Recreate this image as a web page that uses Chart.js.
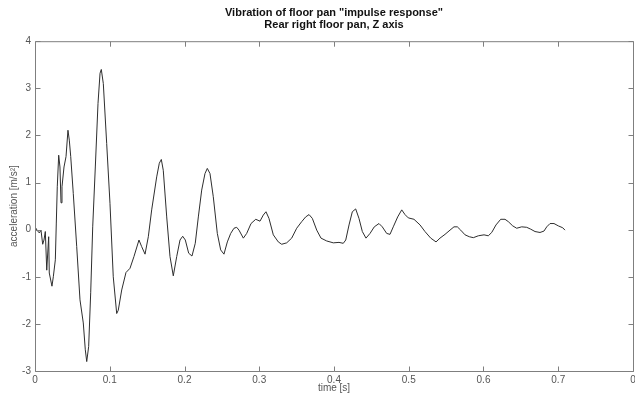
<!DOCTYPE html>
<html>
<head>
<meta charset="utf-8">
<script src="https://cdn.jsdelivr.net/npm/chart.js@4.4.1/dist/chart.umd.min.js"></script>
<style>
  html, body { margin: 0; padding: 0; background: #fff; }
  #wrap { width: 635px; height: 395px; }
</style>
</head>
<body>
<div id="wrap"><canvas id="floor-pan-chart"></canvas></div>
<script>
const titleLines = ['Vibration of floor pan "impulse response"', "Rear right floor pan, Z axis"];
const xTitle = "time [s]";
const yTitle = "acceleration [m/s\u00b2]";

// tick labels as printed on the plot (the last x label is cut to "0")
const xTickLabels = ["0", "0.1", "0.2", "0.3", "0.4", "0.5", "0.6", "0.7", "0"];
const yTickLabels = ["-3", "-2", "-1", "0", "1", "2", "3", "4"];

// time in s, acceleration in m/s^2
const timeSec = [
  0.0000, 0.0031, 0.0058, 0.0080, 0.0103, 0.0120, 0.0138, 0.0157, 0.0183, 0.0191,
  0.0227, 0.0245, 0.0272, 0.0285, 0.0298, 0.0317, 0.0334, 0.0348, 0.0361, 0.0388,
  0.0415, 0.0441, 0.0459, 0.0478, 0.0512, 0.0558, 0.0602, 0.0646, 0.0673, 0.0692,
  0.0718, 0.0745, 0.0772, 0.0807, 0.0843, 0.0870, 0.0887, 0.0914, 0.0959, 0.1003,
  0.1047, 0.1093, 0.1114, 0.1160, 0.1217, 0.1271, 0.1324, 0.1391, 0.1427, 0.1472,
  0.1516, 0.1561, 0.1628, 0.1663, 0.1690, 0.1716, 0.1762, 0.1806, 0.1850, 0.1896,
  0.1940, 0.1976, 0.2011, 0.2056, 0.2100, 0.2144, 0.2185, 0.2230, 0.2274, 0.2305,
  0.2341, 0.2385, 0.2439, 0.2484, 0.2528, 0.2573, 0.2618, 0.2662, 0.2698, 0.2729,
  0.2787, 0.2832, 0.2890, 0.2953, 0.3010, 0.3054, 0.3090, 0.3130, 0.3188, 0.3255,
  0.3300, 0.3367, 0.3434, 0.3501, 0.3568, 0.3621, 0.3666, 0.3710, 0.3769, 0.3826,
  0.3902, 0.3991, 0.4067, 0.4124, 0.4157, 0.4201, 0.4245, 0.4290, 0.4334, 0.4379,
  0.4428, 0.4482, 0.4539, 0.4602, 0.4646, 0.4705, 0.4749, 0.4793, 0.4852, 0.4906,
  0.4950, 0.4994, 0.5070, 0.5151, 0.5217, 0.5294, 0.5365, 0.5418, 0.5485, 0.5552,
  0.5605, 0.5650, 0.5695, 0.5753, 0.5810, 0.5864, 0.5931, 0.6007, 0.6064, 0.6110,
  0.6167, 0.6230, 0.6288, 0.6332, 0.6391, 0.6444, 0.6511, 0.6578, 0.6632, 0.6689,
  0.6756, 0.6809, 0.6846, 0.6890, 0.6943, 0.7001, 0.7060, 0.7090,
];
const accel = [
  0.06, -0.02, -0.07, -0.01, -0.31, -0.22, -0.04, -0.86, -0.15, -0.92,
  -1.20, -1.00, -0.64, 0.14, 0.91, 1.58, 1.33, 0.57, 0.91, 1.33,
  1.55, 2.11, 1.90, 1.55, 0.77, -0.36, -1.49, -1.98, -2.55, -2.80,
  -2.48, -1.34, 0.06, 1.33, 2.68, 3.32, 3.40, 3.10, 1.83, 0.56,
  -1.00, -1.78, -1.71, -1.28, -0.91, -0.82, -0.57, -0.22, -0.36, -0.52,
  -0.15, 0.42, 1.12, 1.41, 1.49, 1.26, 0.27, -0.57, -0.98, -0.57,
  -0.22, -0.14, -0.22, -0.50, -0.56, -0.29, 0.27, 0.84, 1.19, 1.30,
  1.19, 0.70, -0.08, -0.43, -0.52, -0.26, -0.08, 0.03, 0.05, -0.01,
  -0.18, -0.08, 0.13, 0.22, 0.18, 0.31, 0.38, 0.24, -0.11, -0.26,
  -0.31, -0.28, -0.18, 0.03, 0.17, 0.27, 0.32, 0.24, -0.01, -0.18,
  -0.24, -0.28, -0.27, -0.29, -0.22, 0.10, 0.38, 0.44, 0.24, -0.04,
  -0.18, -0.08, 0.06, 0.13, 0.06, -0.08, -0.10, 0.06, 0.27, 0.42,
  0.32, 0.25, 0.22, 0.10, -0.04, -0.18, -0.26, -0.18, -0.10, -0.01,
  0.06, 0.06, -0.01, -0.11, -0.15, -0.17, -0.13, -0.11, -0.13, -0.06,
  0.10, 0.22, 0.22, 0.17, 0.08, 0.03, 0.06, 0.05, 0.01, -0.04,
  -0.06, -0.03, 0.06, 0.13, 0.13, 0.08, 0.04, -0.01,
];

const AXIS_GREY = "#7f7f7f";
const TEXT_GREY = "#555555";
const FONT = "'Liberation Sans', Arial, sans-serif";

// matlab style: closed box, ticks pointing inward on every side
const boxTicks = {
  id: "boxTicks",
  afterDatasetsDraw(chart) {
    const { ctx, chartArea: a, scales } = chart;
    const len = 5;
    const L = a.left + 0.5, R = a.right + 0.5, T = a.top + 0.5, B = a.bottom + 0.5;
    ctx.save();
    ctx.strokeStyle = AXIS_GREY;
    ctx.lineWidth = 1;
    ctx.beginPath();
    ctx.rect(L, T, R - L, B - T);
    scales.x.ticks.forEach((t) => {
      const px = Math.round(scales.x.getPixelForValue(t.value)) + 0.5;
      ctx.moveTo(px, B); ctx.lineTo(px, B - len);
      ctx.moveTo(px, T); ctx.lineTo(px, T + len);
    });
    scales.y.ticks.forEach((t) => {
      const py = Math.round(scales.y.getPixelForValue(t.value)) + 0.5;
      ctx.moveTo(L, py); ctx.lineTo(L + len, py);
      ctx.moveTo(R, py); ctx.lineTo(R - len, py);
    });
    ctx.stroke();
    ctx.restore();
  },
};

const points = timeSec.map((t, i) => ({ x: t, y: accel[i] }));

new Chart(document.getElementById("floor-pan-chart"), {
  type: "line",
  data: {
    datasets: [{
      data: points,
      borderColor: "#2e2e2e",
      borderWidth: 1,
      pointRadius: 0,
      tension: 0,
      fill: false,
    }],
  },
  plugins: [boxTicks],
  options: {
    responsive: true,
    maintainAspectRatio: false,
    animation: false,
    events: [],
    layout: { padding: { left: 0, right: 2, top: 0, bottom: 0 } },
    plugins: {
      legend: { display: false },
      tooltip: { enabled: false },
      title: {
        display: true,
        text: titleLines,
        fullSize: false,
        color: "#111",
        font: { family: FONT, size: 11, weight: "bold", lineHeight: 1.1 },
        padding: { top: 7, bottom: 10 },
      },
    },
    scales: {
      x: {
        type: "linear",
        min: 0,
        max: 0.8,
        grid: { display: false, drawTicks: false },
        border: { display: false },
        ticks: {
          stepSize: 0.1,
          padding: 3,
          maxRotation: 0,
          color: TEXT_GREY,
          font: { family: FONT, size: 10 },
          callback: (v, i) => xTickLabels[i],
        },
        title: {
          display: true,
          text: xTitle,
          color: TEXT_GREY,
          font: { family: FONT, size: 10 },
          padding: { top: 0, bottom: 1 },
        },
        afterFit: (s) => { s.height = 24; s.paddingLeft = 0; s.paddingRight = 2; },
      },
      y: {
        min: -3,
        max: 4,
        grid: { display: false, drawTicks: false },
        border: { display: false },
        ticks: {
          stepSize: 1,
          padding: 4,
          color: TEXT_GREY,
          font: { family: FONT, size: 10 },
          callback: (v, i) => yTickLabels[i],
        },
        title: {
          display: true,
          text: yTitle,
          color: TEXT_GREY,
          font: { family: FONT, size: 10 },
          padding: { top: 8, bottom: 0 },
        },
        afterFit: (s) => { s.width = 35; },
      },
    },
  },
});
</script>
</body>
</html>
